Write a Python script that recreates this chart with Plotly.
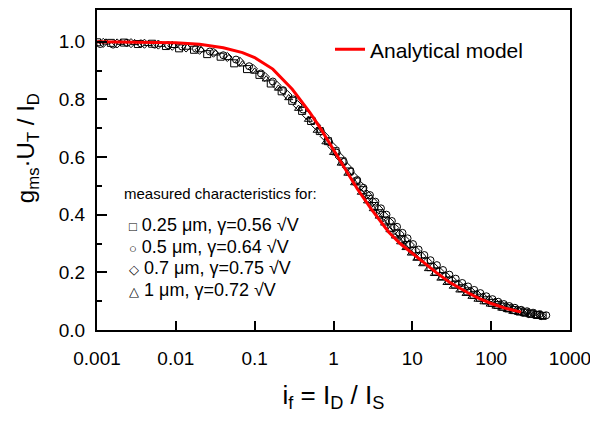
import plotly.graph_objects as go

# ---------------- data ----------------
model_if = [0.001, 0.003, 0.01, 0.02, 0.04, 0.07, 0.1, 0.17, 0.3, 0.5, 0.7, 1.0, 1.5, 2.0, 3.0,
            5.0, 7.0, 10, 15, 20, 30, 50, 70, 100, 150, 240]
model_g = [1.000, 0.999, 0.996, 0.991, 0.979, 0.962, 0.945, 0.905, 0.835, 0.755, 0.695, 0.625,
           0.545, 0.490, 0.420, 0.340, 0.300, 0.265, 0.225, 0.200, 0.165, 0.130, 0.110, 0.092,
           0.076, 0.062]

sq_if = [0.001, 0.0015, 0.0022, 0.0033, 0.005, 0.0075, 0.011, 0.017, 0.025, 0.037, 0.055, 0.08,
         0.115, 0.16, 0.22, 0.3, 0.4, 0.52, 0.67, 0.85, 1.06, 1.3, 1.6, 1.95, 2.35, 2.8, 3.3, 3.9,
         4.6, 5.4, 6.3, 7.3, 8.5, 10, 11.8, 14, 17, 20, 24, 29, 35, 42, 50, 60, 72, 86, 102, 120,
         140, 165, 195, 230, 270, 320, 380, 450]
sq_g = [0.998, 0.996, 0.997, 0.992, 0.993, 0.985, 0.977, 0.972, 0.957, 0.948, 0.925, 0.905,
        0.885, 0.855, 0.828, 0.795, 0.760, 0.725, 0.690, 0.655, 0.620, 0.585, 0.550, 0.515, 0.485,
        0.455, 0.430, 0.405, 0.380, 0.355, 0.335, 0.315, 0.295, 0.275, 0.256, 0.238, 0.218, 0.203,
        0.187, 0.172, 0.158, 0.145, 0.134, 0.122, 0.112, 0.103, 0.094, 0.087, 0.081, 0.075, 0.069,
        0.064, 0.060, 0.056, 0.052, 0.049]

ci_if = [0.0011, 0.0016, 0.0024, 0.0036, 0.0054, 0.008, 0.012, 0.018, 0.027, 0.04, 0.058, 0.085,
         0.12, 0.17, 0.23, 0.31, 0.41, 0.54, 0.69, 0.88, 1.1, 1.35, 1.65, 2.0, 2.4, 2.9, 3.4, 4.0,
         4.7, 5.5, 6.4, 7.5, 8.7, 10.2, 12, 14.2, 17, 20.5, 24.5, 29.5, 35.5, 43, 51, 61, 73, 87,
         104, 123, 145, 170, 200, 240, 285, 340, 410, 500]
ci_g = [0.992, 0.990, 0.996, 0.994, 0.990, 0.988, 0.983, 0.976, 0.966, 0.953, 0.938, 0.915,
        0.890, 0.862, 0.832, 0.800, 0.765, 0.728, 0.690, 0.652, 0.615, 0.583, 0.550, 0.520, 0.493,
        0.468, 0.445, 0.422, 0.400, 0.378, 0.358, 0.337, 0.318, 0.298, 0.279, 0.260, 0.242, 0.225,
        0.208, 0.192, 0.178, 0.163, 0.151, 0.139, 0.128, 0.117, 0.107, 0.098, 0.090, 0.083, 0.077,
        0.070, 0.065, 0.060, 0.055, 0.051]

di_if = [0.0012, 0.0018, 0.0027, 0.004, 0.006, 0.009, 0.0135, 0.02, 0.03, 0.045, 0.065, 0.095,
         0.135, 0.19, 0.26, 0.35, 0.46, 0.6, 0.77, 0.97, 1.2, 1.48, 1.8, 2.2, 2.65, 3.15, 3.7, 4.35,
         5.1, 5.9, 6.9, 8, 9.3, 11, 13, 15.5, 18.5, 22, 26.5, 32, 38.5, 46, 55, 66, 79, 94, 112, 132,
         155, 182, 215, 255, 300, 360, 430]
di_g = [0.996, 0.994, 0.995, 0.993, 0.990, 0.986, 0.980, 0.972, 0.962, 0.947, 0.930, 0.906,
        0.878, 0.848, 0.815, 0.780, 0.745, 0.710, 0.672, 0.636, 0.600, 0.565, 0.532, 0.500, 0.470,
        0.445, 0.420, 0.397, 0.375, 0.355, 0.333, 0.313, 0.295, 0.275, 0.256, 0.237, 0.219, 0.203,
        0.187, 0.172, 0.158, 0.146, 0.134, 0.123, 0.113, 0.104, 0.095, 0.088, 0.081, 0.075, 0.069,
        0.064, 0.059, 0.055, 0.051]

tr_if = [0.0013, 0.002, 0.003, 0.0045, 0.0065, 0.0095, 0.014, 0.021, 0.032, 0.047, 0.07, 0.1,
         0.14, 0.2, 0.27, 0.36, 0.48, 0.62, 0.8, 1.0, 1.25, 1.52, 1.85, 2.25, 2.7, 3.2, 3.8, 4.45,
         5.2, 6.1, 7.1, 8.3, 9.7, 11.4, 13.5, 16, 19, 23, 27.5, 33, 40, 48, 57, 68, 81, 97, 115, 136,
         160, 188, 222, 262, 310, 370, 440]
tr_g = [0.998, 0.997, 0.996, 0.993, 0.990, 0.986, 0.980, 0.971, 0.960, 0.944, 0.922, 0.897,
        0.870, 0.838, 0.805, 0.768, 0.730, 0.692, 0.652, 0.615, 0.578, 0.543, 0.510, 0.477, 0.447,
        0.420, 0.394, 0.370, 0.347, 0.325, 0.305, 0.285, 0.266, 0.248, 0.229, 0.212, 0.195, 0.179,
        0.164, 0.151, 0.138, 0.126, 0.116, 0.106, 0.097, 0.089, 0.082, 0.075, 0.070, 0.064, 0.060,
        0.056, 0.052, 0.049, 0.046]

x_tickvals = [0.001, 0.01, 0.1, 1, 10, 100, 1000]
x_ticktext = ["0.001", "0.01", "0.1", "1", "10", "100", "1000"]
y_tickvals = [0.0, 0.2, 0.4, 0.6, 0.8, 1.0]
y_ticktext = ["0.0", "0.2", "0.4", "0.6", "0.8", "1.0"]
y_minor = [0.1, 0.3, 0.5, 0.7, 0.9]

series_symbols = ["□", "○", "◇", "△"]
series_labels = ["0.25 μm, γ=0.56 √V", "0.5 μm, γ=0.64 √V",
                 "0.7 μm, γ=0.75 √V", "1 μm, γ=0.72 √V"]

FONT = "Liberation Sans, Arial, sans-serif"

fig = go.Figure()
mk = dict(color="black", size=7, line=dict(color="black", width=1))
for xs, ys, sym in [(sq_if, sq_g, "square-open"), (ci_if, ci_g, "circle-open"),
                    (di_if, di_g, "diamond-open"), (tr_if, tr_g, "triangle-up-open")]:
    fig.add_trace(go.Scatter(x=xs, y=ys, mode="markers", showlegend=False,
                             marker=dict(symbol=sym, **mk)))

fig.add_trace(go.Scatter(x=model_if, y=model_g, mode="lines", name="Analytical model",
                         line=dict(color="#ff0000", width=3)))

# page body has an 8 px default margin: figure is 8 px smaller and shifted
fig.update_layout(
    width=590, height=413,
    margin=dict(l=89, r=28, t=0, b=91),
    paper_bgcolor="white", plot_bgcolor="white",
    font=dict(family=FONT, color="black", size=19),
    legend=dict(x=0.4926, y=0.876, xanchor="left", yanchor="middle",
                bgcolor="rgba(0,0,0,0)", borderwidth=0, itemwidth=30,
                font=dict(size=21, family=FONT)),
    xaxis=dict(type="log", range=[-3, 3], tickvals=x_tickvals, ticktext=x_ticktext,
               ticks="inside", ticklen=9, tickwidth=1.5, tickcolor="black",
               showline=True, linecolor="black", linewidth=2, mirror=True,
               showgrid=False, zeroline=False, ticklabelstandoff=10,
               tickfont=dict(size=19),
               title=dict(text="i<sub>f</sub> = I<sub>D</sub> / I<sub>S</sub>",
                          font=dict(size=26), standoff=18)),
    yaxis=dict(range=[0, 1.11], tickvals=y_tickvals, ticktext=y_ticktext,
               ticks="inside", ticklen=10, tickwidth=1.5, tickcolor="black",
               minor=dict(tickvals=y_minor, ticks="inside", ticklen=5, tickcolor="black", tickwidth=1.5),
               showline=True, linecolor="black", linewidth=2, mirror=True,
               showgrid=False, zeroline=False, ticklabelstandoff=6,
               tickfont=dict(size=19)),
)

# y-axis title (placed as in the reference, a bit above the plot centre)
fig.add_annotation(xref="paper", yref="paper", x=(27 - 97) / 473, y=(330 - 147) / 322,
                   xanchor="center", yanchor="middle", showarrow=False, textangle=-90,
                   text="g<sub>ms</sub>·U<sub>T</sub> / I<sub>D</sub>",
                   font=dict(size=24, family=FONT))

fig.add_annotation(xref="paper", yref="paper", x=(122 - 97) / 473, y=(330 - 193) / 322,
                   xanchor="left", yanchor="middle", showarrow=False,
                   text="measured characteristics for:", font=dict(size=15, family=FONT))
row_y = [224, 246, 268, 290]
for sym, lbl, ry in zip(series_symbols, series_labels, row_y):
    fig.add_annotation(xref="paper", yref="paper", x=(127 - 97) / 473, y=(330 - ry) / 322,
                       xanchor="left", yanchor="middle", showarrow=False,
                       text='<span style="font-size:13px">' + sym + '</span> ' + lbl,
                       font=dict(size=18, family=FONT))

fig.write_html("out.html")
